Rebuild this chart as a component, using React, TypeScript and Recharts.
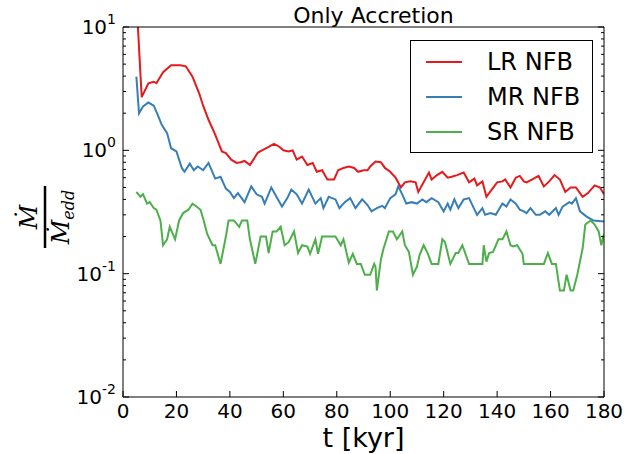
import { Legend, Line, LineChart, XAxis, YAxis } from 'recharts';

// [t in kyr, Mdot / Mdot_edd]
const lrNfb: [number, number][] = [
  [5, 17], [7, 2.7], [9.5, 3.5], [11.5, 3.6], [12.5, 3.5], [15, 4.3], [18, 4.9], [21.5, 4.9],
  [23.5, 4.8], [26, 3.96], [28.5, 2.9], [30, 2.3], [32, 1.77], [34.5, 1.34], [35.5, 1.18],
  [37, 0.98], [38.5, 0.95], [40.5, 0.84], [42.5, 0.79], [44, 0.8], [45.5, 0.82], [47.5, 0.76],
  [50.5, 0.96], [52, 1.0], [54, 1.05], [56.5, 1.13], [58.5, 1.07], [60, 1.0], [62, 0.98],
  [63.5, 1.0], [65, 0.84], [67, 0.89], [69, 0.76], [71, 0.79], [72.5, 0.67], [74.5, 0.69],
  [76.5, 0.58], [79, 0.58], [80.5, 0.69], [82.5, 0.72], [84.5, 0.74], [86.5, 0.72], [88, 0.67],
  [90, 0.69], [91.5, 0.69], [92.5, 0.74], [94.5, 0.81], [96.5, 0.8], [98, 0.72], [100, 0.67],
  [102, 0.6], [104, 0.5], [105.5, 0.55], [107.5, 0.56], [109.5, 0.55], [110.5, 0.46],
  [112.5, 0.55], [114.5, 0.66], [115.5, 0.58], [117.5, 0.63], [119.5, 0.67], [121.5, 0.6],
  [123, 0.61], [125, 0.63], [127.5, 0.66], [129.5, 0.55], [131.5, 0.59], [132.5, 0.52],
  [134.5, 0.56], [136, 0.42], [138, 0.48], [140, 0.55], [142, 0.56], [143, 0.58], [145, 0.5],
  [147, 0.6], [148.5, 0.62], [150, 0.56], [151, 0.55], [153, 0.58], [155.5, 0.62], [157.5, 0.51],
  [159.5, 0.56], [161.5, 0.63], [163.5, 0.58], [165.5, 0.46], [167.5, 0.5], [169.5, 0.5],
  [172, 0.42], [174, 0.45], [176.5, 0.52], [178.5, 0.5], [180, 0.44],
];

const mrNfb: [number, number][] = [
  [5, 3.96], [6, 2.0], [7.5, 2.27], [9.5, 2.44], [11.5, 2.3], [13, 1.94], [14.5, 1.61],
  [16.5, 1.38], [18, 1.04], [20, 0.98], [22, 0.72], [23, 0.67], [25, 0.78], [26.5, 0.69],
  [28, 0.74], [30, 0.69], [32, 0.79], [34.5, 0.59], [36.5, 0.61], [38.5, 0.49], [40, 0.46],
  [41.5, 0.41], [43, 0.45], [45.5, 0.38], [48, 0.51], [50, 0.44], [52, 0.42], [53, 0.37],
  [55.5, 0.5], [58, 0.4], [59.5, 0.35], [61.5, 0.41], [63, 0.48], [65, 0.44], [67, 0.37],
  [69.5, 0.48], [72, 0.37], [74, 0.41], [75, 0.34], [77, 0.42], [79.5, 0.4], [81, 0.34],
  [83, 0.38], [85, 0.41], [87, 0.34], [89.5, 0.4], [91.5, 0.36], [93, 0.32], [95, 0.34],
  [97, 0.355], [98, 0.34], [100, 0.41], [102, 0.44], [103, 0.51], [104.5, 0.44], [106, 0.37],
  [108, 0.38], [110, 0.37], [112, 0.4], [113.5, 0.38], [115.5, 0.41], [118, 0.38], [120, 0.32],
  [121.5, 0.37], [122.5, 0.33], [124, 0.4], [125.5, 0.34], [127.5, 0.4], [129.5, 0.41],
  [131, 0.35], [132.5, 0.3], [134.5, 0.34], [135.5, 0.3], [137.5, 0.31], [139.5, 0.3],
  [142, 0.37], [143.5, 0.35], [145, 0.4], [147, 0.37], [148.5, 0.33], [150, 0.32], [151, 0.31],
  [152.5, 0.34], [154.5, 0.3], [156, 0.3], [158, 0.32], [159.5, 0.3], [162, 0.34], [163, 0.3],
  [164.5, 0.35], [167, 0.38], [168, 0.37], [169.5, 0.41], [171, 0.32], [173.5, 0.29],
  [176, 0.27], [180, 0.265],
];

const srNfb: [number, number][] = [
  [5, 0.46], [6.5, 0.42], [7.5, 0.44], [9, 0.37], [10, 0.38], [11.5, 0.34], [12.5, 0.33],
  [14, 0.27], [15, 0.17], [16.5, 0.19], [17.5, 0.24], [19.5, 0.19], [21, 0.27], [22.5, 0.31],
  [24.5, 0.33], [26, 0.37], [27.5, 0.35], [29, 0.33], [30, 0.28], [31.5, 0.21], [33.5, 0.17],
  [34.5, 0.17], [36.5, 0.12], [38.5, 0.2], [39.5, 0.27], [41.5, 0.27], [43.5, 0.24],
  [44.5, 0.27], [46.5, 0.27], [47.5, 0.19], [49.5, 0.12], [51.5, 0.2], [53.5, 0.2],
  [54.5, 0.147], [56, 0.22], [57.5, 0.22], [59, 0.24], [60.5, 0.17], [62, 0.18], [64, 0.22],
  [65.5, 0.147], [67, 0.17], [69, 0.166], [70, 0.145], [72, 0.19], [73, 0.145], [74.5, 0.2],
  [79.5, 0.2], [81.5, 0.17], [82.5, 0.19], [84.5, 0.123], [86, 0.145], [87.5, 0.12], [89, 0.12],
  [90.5, 0.098], [92.5, 0.098], [94, 0.12], [94.5, 0.114], [95, 0.073], [96.5, 0.13],
  [97.5, 0.16], [99.5, 0.22], [101, 0.22], [102.5, 0.19], [104.5, 0.22], [105.5, 0.17],
  [107, 0.15], [108.5, 0.098], [110, 0.114], [111, 0.142], [112.5, 0.17], [114, 0.147],
  [115.5, 0.12], [118, 0.12], [119.5, 0.19], [120.5, 0.18], [122.5, 0.12], [124.5, 0.147],
  [125.5, 0.147], [127, 0.17], [129.5, 0.12], [134.5, 0.12], [135, 0.17], [136, 0.125],
  [137, 0.147], [138.5, 0.15], [140.5, 0.19], [142, 0.19], [143.5, 0.22], [145, 0.17],
  [146, 0.166], [147.5, 0.17], [149.5, 0.145], [150, 0.12], [157.5, 0.12], [159, 0.147],
  [160.5, 0.12], [162, 0.12], [163.5, 0.073], [165, 0.073], [166, 0.098], [167.5, 0.073],
  [168.5, 0.073], [170, 0.098], [172, 0.16], [173, 0.25], [174, 0.26], [175, 0.27],
  [176.5, 0.25], [178, 0.22], [179, 0.17], [180, 0.21],
];

const xTicks = [0, 20, 40, 60, 80, 100, 120, 140, 160, 180];
const yMajorTicks = [0.01, 0.1, 1, 10];
const yTicks = [
  0.01, 0.02, 0.03, 0.04, 0.05, 0.06, 0.07, 0.08, 0.09,
  0.1, 0.2, 0.3, 0.4, 0.5, 0.6, 0.7, 0.8, 0.9,
  1, 2, 3, 4, 5, 6, 7, 8, 9, 10,
];

const series = [
  { name: 'LR NFB', points: lrNfb, color: '#e41a1c' },
  { name: 'MR NFB', points: mrNfb, color: '#377eb8' },
  { name: 'SR NFB', points: srNfb, color: '#4daf4a' },
];

const FONT = '"DejaVu Sans", sans-serif';
const GAP = 6;
const MAJOR = 6;
const MINOR = 3;

function isMajor(v: number) {
  return yMajorTicks.includes(v);
}

function LeftTick({ x, y, payload }: any) {
  const edge = x + GAP;
  const major = isMajor(payload.value);
  return (
    <g>
      <line x1={edge} x2={edge + (major ? MAJOR : MINOR)} y1={y} y2={y} stroke="#000" />
      {major && (
        <text x={edge - 7} y={y + 7} textAnchor="end" fontFamily={FONT} fontSize={20} fill="#000">
          10
          <tspan dy={-10} fontSize={14}>{Math.round(Math.log10(payload.value))}</tspan>
        </text>
      )}
    </g>
  );
}

function RightTick({ x, y, payload }: any) {
  const edge = x - GAP;
  const len = isMajor(payload.value) ? MAJOR : MINOR;
  return <line x1={edge} x2={edge - len} y1={y} y2={y} stroke="#000" />;
}

function BottomTick({ x, y, payload }: any) {
  const edge = y - GAP;
  return (
    <g>
      <line x1={x} x2={x} y1={edge} y2={edge - MAJOR} stroke="#000" />
      <text x={x} y={edge + 21} textAnchor="middle" fontFamily={FONT} fontSize={20} fill="#000">
        {payload.value}
      </text>
    </g>
  );
}

function TopTick({ x, y }: any) {
  const edge = y + GAP;
  return <line x1={x} x2={x} y1={edge} y2={edge + MAJOR} stroke="#000" />;
}

function LegendBox({ payload }: any) {
  return (
    <div
      style={{
        width: 183,
        height: 113,
        boxSizing: 'border-box',
        border: '1px solid #000',
        background: '#fff',
        position: 'relative',
        fontFamily: FONT,
        fontSize: 24,
      }}
    >
      {(payload ?? []).map((entry: any, i: number) => (
        <div
          key={entry.value}
          style={{ position: 'absolute', left: 0, top: 6 + 35 * i, height: 30, display: 'flex', alignItems: 'center' }}
        >
          <span style={{ display: 'inline-block', width: 36, height: 2, background: entry.color, marginLeft: 15, marginRight: 25 }} />
          <span>{entry.value}</span>
        </div>
      ))}
    </div>
  );
}

function YLabel({ viewBox }: any) {
  const cx = viewBox.x + 25;
  const cy = viewBox.y + viewBox.height / 2 + 5;
  return (
    <g transform={`translate(${cx}, ${cy}) rotate(-90)`}>
      <text x={0} y={-8} textAnchor="middle" fontFamily='"DejaVu Serif", serif' fontStyle="italic" fontSize={24} fill="#000">
        Ṁ
      </text>
      <line x1={-31} x2={31} y1={0} y2={0} stroke="#000" strokeWidth={2.5} />
      <text x={0} y={24} textAnchor="middle" fontFamily='"DejaVu Serif", serif' fontStyle="italic" fontSize={24} fill="#000">
        Ṁ<tspan dy={5} fontSize={16}>edd</tspan>
      </text>
    </g>
  );
}

function Title({ viewBox }: any) {
  return (
    <text x={viewBox.x + viewBox.width / 2 + 10} y={viewBox.y + 16} textAnchor="middle" fontFamily={FONT} fontSize={22} fill="#000">
      Only Accretion
    </text>
  );
}

function XLabel({ viewBox }: any) {
  return (
    <text x={viewBox.x + viewBox.width / 2} y={viewBox.y + 50} textAnchor="middle" fontFamily={FONT} fontSize={27} fill="#000">
      t [kyr]
    </text>
  );
}

export default function App() {
  return (
    <div style={{ position: 'absolute', left: 0, top: 0, width: 644, height: 454, background: '#fff' }}>
      <LineChart width={644} height={454} margin={{ top: 7, right: 30, bottom: 7, left: 20 }}>
        <XAxis
          xAxisId="bottom"
          dataKey="t"
          type="number"
          domain={[0, 180]}
          ticks={xTicks}
          interval={0}
          allowDataOverflow
          height={50}
          tickSize={0}
          tickMargin={GAP}
          tickLine={false}
          axisLine={{ stroke: '#000' }}
          tick={BottomTick}
          label={{ content: XLabel }}
        />
        <XAxis
          xAxisId="top"
          orientation="top"
          type="number"
          domain={[0, 180]}
          ticks={xTicks}
          interval={0}
          allowDataOverflow
          height={20}
          tickSize={0}
          tickMargin={GAP}
          tickLine={false}
          axisLine={{ stroke: '#000' }}
          tick={TopTick}
          label={{ content: Title }}
        />
        <YAxis
          yAxisId="left"
          type="number"
          scale="log"
          domain={[0.01, 10]}
          ticks={yTicks}
          interval={0}
          allowDataOverflow
          width={103}
          tickSize={0}
          tickMargin={GAP}
          tickLine={false}
          axisLine={{ stroke: '#000' }}
          tick={LeftTick}
          label={{ content: YLabel }}
        />
        <YAxis
          yAxisId="right"
          orientation="right"
          type="number"
          scale="log"
          domain={[0.01, 10]}
          ticks={yTicks}
          interval={0}
          allowDataOverflow
          width={10}
          tickSize={0}
          tickMargin={GAP}
          tickLine={false}
          axisLine={{ stroke: '#000' }}
          tick={RightTick}
        />
        <Legend
          layout="vertical"
          align="center"
          verticalAlign="middle"
          wrapperStyle={{ left: 410, top: 40, width: 183, height: 113 }}
          content={LegendBox}
        />
        {series.map((s) => (
          <Line
            key={s.name}
            name={s.name}
            xAxisId="bottom"
            yAxisId="left"
            data={s.points.map(([t, v]) => ({ t, v }))}
            dataKey="v"
            type="linear"
            stroke={s.color}
            strokeWidth={2}
            dot={false}
            isAnimationActive={false}
          />
        ))}
      </LineChart>
    </div>
  );
}
